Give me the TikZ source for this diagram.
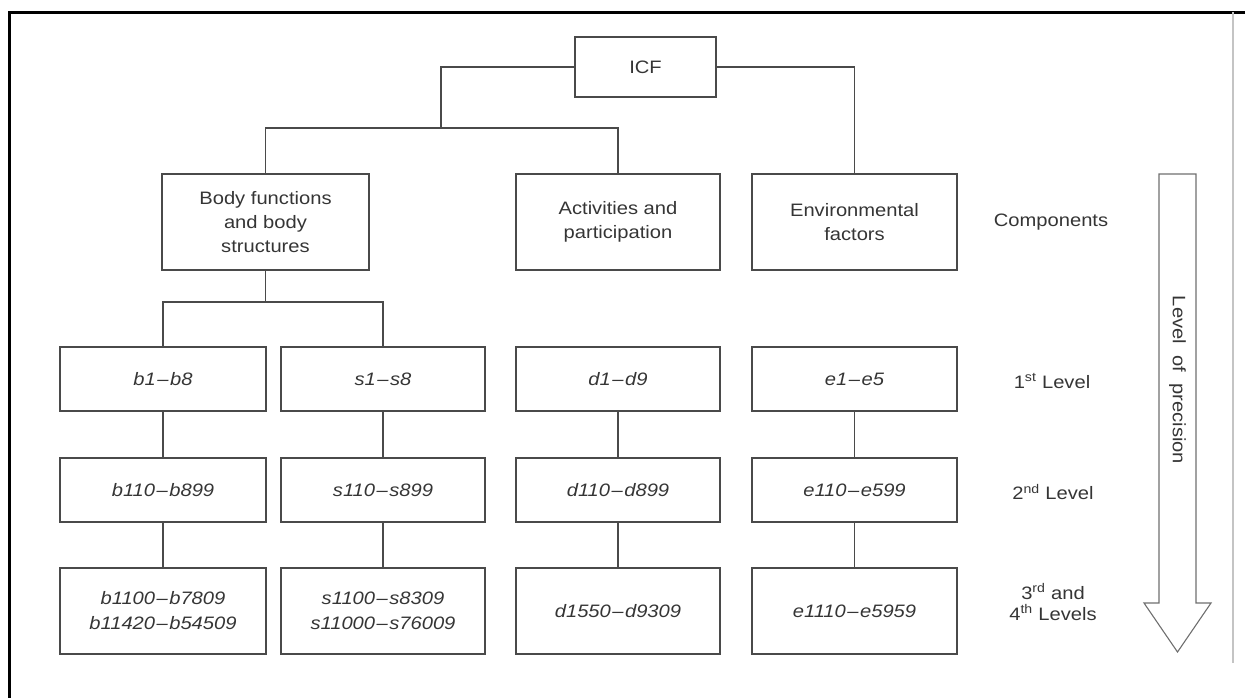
\documentclass[tikz,border=0pt]{standalone}
\usepackage{fontspec}
\setmainfont{Liberation Sans}[FakeStretch=1.12]
\usetikzlibrary{positioning, calc}

\definecolor{linegray}{HTML}{4A4A4A}
\definecolor{textgray}{HTML}{353535}
\definecolor{rulegray}{HTML}{C4C4C4}

\newcommand{\rng}[2]{#1\kern1.5pt–\kern1.5pt#2}

\tikzset{
    levelbox/.style={draw=linegray, line width=1.3pt, text=textgray, align=center,
        inner sep=0pt, font=\fontsize{18}{24}\selectfont},
    codebox/.style={levelbox, font=\fontsize{18}{25}\selectfont\itshape},
    tag/.style={text=textgray, align=center, font=\fontsize{18}{21}\selectfont},
    link/.style={draw=linegray, line width=1.3pt}
}

\begin{document}
\begin{tikzpicture}[x=1pt, y=-1pt]
    \useasboundingbox (0,0) rectangle (1245,697);
    % page frame
    \draw [line width=3pt, line cap=rect] (9,697) -- (9,12) -- (1245,12);
    \draw [rulegray, line width=2.5pt] (1233,12) -- (1233,663);

    % top and components
    \node (icf) [levelbox, minimum width=141pt, minimum height=60pt] at (645.5,67) {ICF};
    \node (body) [levelbox, minimum width=207pt, minimum height=96pt] at (265.5,222) {Body functions\\and body\\structures};
    \node (act) [levelbox, minimum width=204pt, minimum height=96pt] at (618,222) {Activities and\\participation};
    \node (env) [levelbox, minimum width=205pt, minimum height=96pt] at (854.5,222) {Environmental\\factors};

    % code levels
    \node (b1) [codebox, minimum width=206pt, minimum height=64pt] at (163,379) {\rng{b1}{b8}};
    \node (s1) [codebox, minimum width=204pt, minimum height=64pt] at (383,379) {\rng{s1}{s8}};
    \node (d1) [codebox, minimum width=204pt, minimum height=64pt] at (618,379) {\rng{d1}{d9}};
    \node (e1) [codebox, minimum width=205pt, minimum height=64pt] at (854.5,379) {\rng{e1}{e5}};

    \node (b2) [codebox, minimum width=206pt, minimum height=64pt] at (163,490) {\rng{b110}{b899}};
    \node (s2) [codebox, minimum width=204pt, minimum height=64pt] at (383,490) {\rng{s110}{s899}};
    \node (d2) [codebox, minimum width=204pt, minimum height=64pt] at (618,490) {\rng{d110}{d899}};
    \node (e2) [codebox, minimum width=205pt, minimum height=64pt] at (854.5,490) {\rng{e110}{e599}};

    \node (b3) [codebox, minimum width=206pt, minimum height=86pt] at (163,611) {\rng{b1100}{b7809}\\\rng{b11420}{b54509}};
    \node (s3) [codebox, minimum width=204pt, minimum height=86pt] at (383,611) {\rng{s1100}{s8309}\\\rng{s11000}{s76009}};
    \node (d3) [codebox, minimum width=204pt, minimum height=86pt] at (618,611) {\rng{d1550}{d9309}};
    \node (e3) [codebox, minimum width=205pt, minimum height=86pt] at (854.5,611) {\rng{e1110}{e5959}};

    % connectors
    \coordinate (split) at (441,128);
    \coordinate (bsplit) at (265.5,302);
    \draw [link] (icf.west) -| (split);
    \draw [link] (body.north) |- (split) -| (act.north);
    \draw [link] (icf.east) -| (env.north);
    \draw [link] (body.south) -- (bsplit);
    \draw [link] (b1.north) |- (bsplit) -| (s1.north);
    \foreach \col in {b,s,d,e} {
        \draw [link] (\col1.south) -- (\col2.north);
        \draw [link] (\col2.south) -- (\col3.north);
    }

    % level labels
    \node (comp) [tag] at (1051,222) {Components};
    \node (lev1) [tag] at (1052,381) {1\textsuperscript{st} Level};
    \node (lev2) [tag] at (1053,492) {2\textsuperscript{nd} Level};
    \node (lev3) [tag] at (1053,602) {3\textsuperscript{rd} and\\4\textsuperscript{th} Levels};

    % precision arrow
    \draw [linegray!80, line width=1.1pt, line join=miter]
        (1159,174) -- (1196,174) -- (1196,603) -- (1211,603) -- (1177.5,652)
        -- (1144,603) -- (1159,603) -- cycle;
    \node (prec) [tag, rotate=-90] at (1177.5,380) {Level\ \ of\ \ precision};
\end{tikzpicture}
\end{document}
